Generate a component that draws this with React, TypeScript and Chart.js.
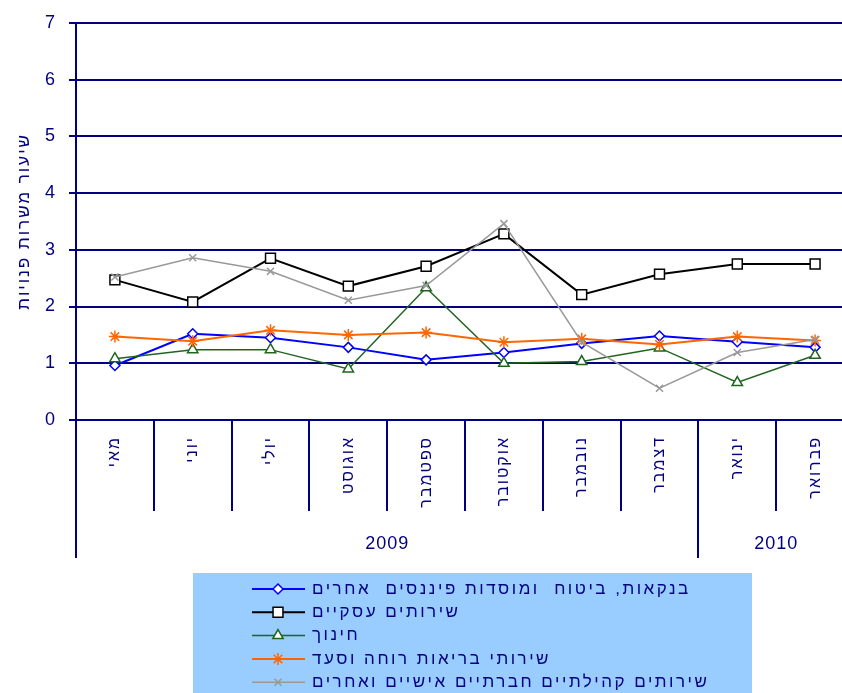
import React, { useEffect, useRef } from 'react';
import { Chart, registerables } from 'chart.js';
import * as helpers from 'chart.js/helpers';

Chart.register(...registerables);

const MONTHS = ['מאי', 'יוני', 'יולי', 'אוגוסט', 'ספטמבר', 'אוקטובר', 'נובמבר', 'דצמבר', 'ינואר', 'פברואר'];
const YEARS = ['2009', '2010'];
const YEAR_SPANS = [8, 2];

const Y_MIN = 0;
const Y_MAX = 7;
const Y_STEP = 1;
const Y_TITLE = 'שיעור משרות פנויות';

const BANKS = [0.96, 1.52, 1.45, 1.28, 1.06, 1.19, 1.35, 1.48, 1.38, 1.28];
const BUSINESS = [2.47, 2.08, 2.85, 2.36, 2.71, 3.28, 2.21, 2.57, 2.75, 2.75];
const EDUCATION = [1.08, 1.24, 1.24, 0.9, 2.33, 1.0, 1.03, 1.27, 0.66, 1.14];
const HEALTH = [1.47, 1.39, 1.58, 1.5, 1.54, 1.37, 1.43, 1.33, 1.47, 1.4];
const COMMUNITY = [2.52, 2.86, 2.62, 2.11, 2.37, 3.46, 1.37, 0.56, 1.19, 1.42];

const SERIES_NAMES = [
  'בנקאות, ביטוח  ומוסדות פיננסים  אחרים',
  'שירותים עסקיים',
  'חינוך',
  'שירותי בריאות רוחה וסעד',
  'שירותים קהילתיים חברתיים אישיים ואחרים',
];

const NAVY = '#000080';
const FONT = '"Liberation Sans", Arial, sans-serif';

const STYLES = [
  { color: '#0000ff', pointStyle: 'rectRot', radius: 5, lineWidth: 2, fill: '#ffffff' },
  { color: '#000000', pointStyle: 'rect', radius: 7, lineWidth: 2, fill: '#ffffff' },
  { color: '#1f641f', pointStyle: 'triangle', radius: 6, lineWidth: 1.5, fill: '#ffffff' },
  { color: '#ff6600', pointStyle: 'star', radius: 6, lineWidth: 2, fill: '#ff6600' },
  { color: '#999999', pointStyle: 'crossRot', radius: 5, lineWidth: 1.5, fill: '#999999' },
];

const setSpacing = (chart: any) => {
  (chart.ctx as any).letterSpacing = '2px';
};

const decorPlugin = {
  id: 'decor',
  beforeLayout: setSpacing,
  beforeDraw: setSpacing,
  afterDraw(chart: any) {
    const ctx = chart.ctx;
    const xs = chart.scales.x;
    const area = chart.chartArea;
    const step = xs.getPixelForValue(1) - xs.getPixelForValue(0);
    const start = xs.getPixelForValue(0) - step / 2;
    ctx.save();
    ctx.strokeStyle = NAVY;
    ctx.lineWidth = 2;
    const longIdx = new Set<number>();
    let acc = 0;
    longIdx.add(0);
    YEAR_SPANS.forEach((s) => {
      acc += s;
      longIdx.add(acc);
    });
    for (let i = 0; i <= MONTHS.length; i++) {
      const x = Math.round(start + i * step);
      const long = longIdx.has(i) && i < MONTHS.length;
      ctx.beginPath();
      ctx.moveTo(x, area.bottom);
      ctx.lineTo(x, area.bottom + (long ? 138 : 91));
      ctx.stroke();
    }
    ctx.fillStyle = NAVY;
    ctx.font = `18px ${FONT}`;
    ctx.letterSpacing = '1px';
    ctx.textAlign = 'center';
    ctx.textBaseline = 'middle';
    let first = 0;
    YEARS.forEach((y, k) => {
      const cx = start + (first + YEAR_SPANS[k] / 2) * step;
      ctx.fillText(y, cx, area.bottom + 124);
      first += YEAR_SPANS[k];
    });
    ctx.restore();

    // legend
    ctx.save();
    const lx = 193;
    const ly = 573;
    ctx.fillStyle = '#99ccff';
    ctx.fillRect(lx, ly, 559, 200);
    chart.data.datasets.forEach((ds: any, i: number) => {
      const st = STYLES[i];
      const y = ly + 16 + i * 23.3;
      ctx.strokeStyle = st.color;
      ctx.lineWidth = st.lineWidth;
      ctx.beginPath();
      ctx.moveTo(252, y);
      ctx.lineTo(305, y);
      ctx.stroke();
      ctx.fillStyle = st.fill;
      ctx.strokeStyle = st.color;
      ctx.lineWidth = 1.5;
      helpers.drawPoint(ctx, { pointStyle: st.pointStyle, radius: st.radius, rotation: 0, borderWidth: 1.5 }, 278, y);
      ctx.fillStyle = NAVY;
      ctx.font = `17px ${FONT}`;
      ctx.letterSpacing = '2.5px';
      ctx.textAlign = 'left';
      ctx.textBaseline = 'middle';
      ctx.fillText(ds.label, 312, y);
    });
    ctx.restore();
  },
};

export default function App() {
  const ref = useRef<HTMLCanvasElement>(null);
  useEffect(() => {
    if (!ref.current) return;
    const seriesData = [BANKS, BUSINESS, EDUCATION, HEALTH, COMMUNITY];
    const chart = new Chart(ref.current, {
      type: 'line',
      data: {
        labels: MONTHS,
        datasets: seriesData.map((d, i) => ({
          label: SERIES_NAMES[i],
          data: d,
          borderColor: STYLES[i].color,
          backgroundColor: STYLES[i].fill,
          borderWidth: STYLES[i].lineWidth,
          pointStyle: STYLES[i].pointStyle as any,
          pointRadius: STYLES[i].radius,
          pointBorderWidth: 1.5,
          pointBorderColor: STYLES[i].color,
          pointBackgroundColor: STYLES[i].fill,
          tension: 0,
          fill: false,
          order: seriesData.length - i,
        })),
      },
      options: {
        responsive: false,
        animation: false,
        layout: { padding: { top: 12, bottom: 160, left: 0, right: 26 } },
        plugins: {
          legend: { display: false },
          tooltip: { enabled: false },
        },
        scales: {
          x: {
            type: 'category',
            offset: true,
            grid: { display: false, drawTicks: false },
            border: { display: false },
            ticks: {
              autoSkip: false,
              minRotation: 90,
              maxRotation: 90,
              padding: 16,
              color: NAVY,
              font: { size: 16, family: FONT },
            },
            afterFit: (s: any) => {
              s.height = 140;
            },
          },
          y: {
            min: Y_MIN,
            max: Y_MAX,
            ticks: {
              stepSize: Y_STEP,
              padding: 12,
              color: NAVY,
              font: { size: 18, family: FONT },
            },
            grid: { color: NAVY, lineWidth: 2, tickLength: 7, tickColor: NAVY },
            border: { display: true, color: NAVY, width: 2 },
            title: {
              display: true,
              text: Y_TITLE,
              color: NAVY,
              font: { size: 17, family: FONT },
              padding: { top: 14, bottom: 0 },
            },
            afterFit: (s: any) => {
              s.width = 76;
            },
          },
        },
      },
      plugins: [decorPlugin],
    });
    return () => chart.destroy();
  }, []);
  return (
    <div style={{ position: 'fixed', left: 0, top: 0, width: 880, height: 720, overflow: 'hidden', background: '#fff' }}>
      <canvas ref={ref} width={880} height={720} style={{ display: 'block', width: 880, height: 720 }} />
    </div>
  );
}
